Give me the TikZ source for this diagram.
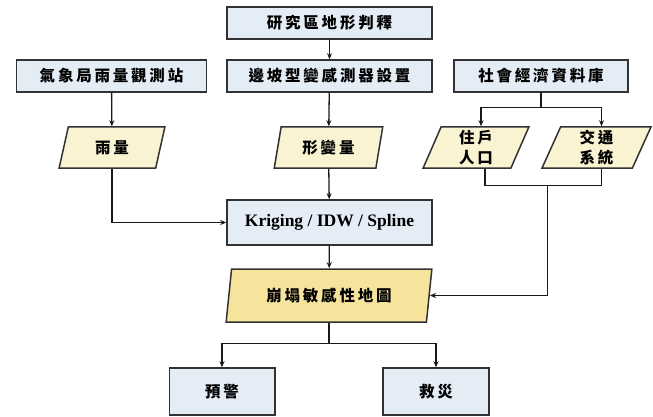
\documentclass[tikz,border=0pt]{standalone}
\usepackage{fontspec}
\setmainfont{Liberation Serif}
\newfontfamily\cjk[LetterSpace=18]{Noto Sans CJK TC}
\usetikzlibrary{shapes.geometric,arrows.meta,calc}
\definecolor{boxblue}{RGB}{228,236,246}
\definecolor{paleyellow}{RGB}{250,243,210}
\definecolor{goldyellow}{RGB}{246,228,156}
\definecolor{edgegray}{RGB}{50,50,50}
\definecolor{linegray}{RGB}{25,25,25}
\tikzset{
  procbox/.style={draw=edgegray, line width=1.5pt, fill=boxblue, rectangle, inner sep=0pt, align=center, font=\cjk\bfseries\fontsize{15.5}{20}\selectfont},
  databox/.style={draw=edgegray, line width=1.5pt, fill=paleyellow, trapezium, trapezium left angle=76, trapezium right angle=104, trapezium stretches=true, inner sep=0pt, align=center, font=\cjk\bfseries\fontsize{15.5}{20}\selectfont},
  conn/.style={draw=linegray, line width=1.3pt},
  arr/.style={conn, -{Stealth[length=6pt,width=5pt]}}
}
\begin{document}
\begin{tikzpicture}[x=1pt,y=-1pt]
\useasboundingbox (0,0) rectangle (653,417);
\node[procbox, minimum width=205pt, minimum height=32pt] (b1) at (329.5,23) {研究區地形判釋};
\node[procbox, minimum width=190pt, minimum height=32pt] (b2) at (111.5,76) {氣象局雨量觀測站};
\node[procbox, minimum width=205pt, minimum height=32pt] (b3) at (329.5,76) {邊坡型變感測器設置};
\node[procbox, minimum width=174pt, minimum height=32pt] (b4) at (541,76) {社會經濟資料庫};
\node[databox, minimum width=106pt, minimum height=41pt] (p1) at (112,147.5) {雨量};
\node[databox, minimum width=109pt, minimum height=41pt] (p2) at (328.5,147.5) {形變量};
\node[databox, minimum width=106pt, minimum height=41pt] (p3) at (476,147.5) {住戶\\人口};
\node[databox, minimum width=109pt, minimum height=41pt] (p4) at (596.5,147.5) {交通\\系統};
\node[procbox, minimum width=205pt, minimum height=45pt, font=\bfseries\fontsize{17.5}{20}\selectfont] (k) at (329.5,222.5) {Kriging / IDW / Spline};
\node[databox, fill=goldyellow, trapezium left angle=77, trapezium right angle=103, minimum width=206pt, minimum height=53pt] (m) at (329,295.5) {崩塌敏感性地圖};
\node[procbox, minimum width=105.5pt, minimum height=47pt] (w) at (222,391.5) {預警};
\node[procbox, minimum width=106pt, minimum height=47pt] (r) at (436,391.5) {救災};
% connectors
\draw[arr] (b1) -- (b3);
\draw[arr] (b2) -- (p1);
\draw[arr] (b3) -- (p2);
\draw[conn] (b4.south) -- ++(0,15) coordinate (s1);
\draw[arr] (s1) -| ($(p3.north)+(5,0)$);
\draw[arr] (s1) -| ($(p4.north)+(5,0)$);
\draw[arr] (p1.south) |- (k.west);
\draw[arr] (p2) -- (k);
\draw[conn] ($(p3.south)+(9,0)$) -- ++(0,17) coordinate (j1) -| ($(p4.south)+(5,0)$);
\coordinate (j2) at ($(j1)!0.5!(j1 -| p4.south)$);
\draw[arr] ($(j2)+(7,0)$) |- (m.east);
\draw[arr] (k) -- (m);
\draw[conn] (m.south) -- ++(0,21) coordinate (s2);
\draw[arr] (s2) -| (w.north);
\draw[arr] (s2) -| (r.north);
\end{tikzpicture}
\end{document}
